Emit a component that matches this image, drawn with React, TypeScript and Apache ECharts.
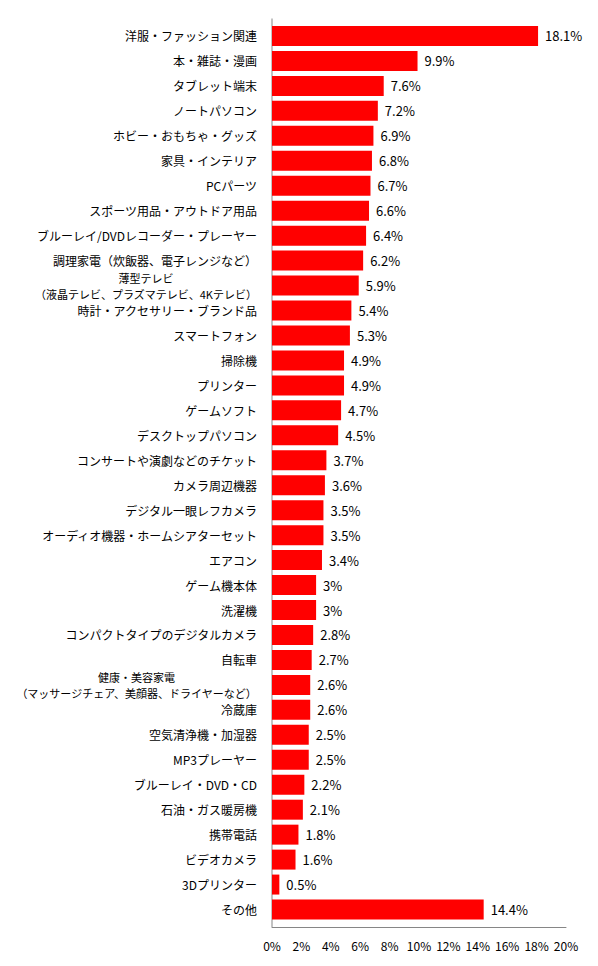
import { useEffect, useRef } from 'react';
import * as echarts from 'echarts';

const categories = [
  '洋服・ファッション関連',
  '本・雑誌・漫画',
  'タブレット端末',
  'ノートパソコン',
  'ホビー・おもちゃ・グッズ',
  '家具・インテリア',
  'PCパーツ',
  'スポーツ用品・アウトドア用品',
  'ブルーレイ/DVDレコーダー・プレーヤー',
  '調理家電（炊飯器、電子レンジなど）',
  '薄型テレビ\n（液晶テレビ、プラズマテレビ、4Kテレビ）',
  '時計・アクセサリー・ブランド品',
  'スマートフォン',
  '掃除機',
  'プリンター',
  'ゲームソフト',
  'デスクトップパソコン',
  'コンサートや演劇などのチケット',
  'カメラ周辺機器',
  'デジタル一眼レフカメラ',
  'オーディオ機器・ホームシアターセット',
  'エアコン',
  'ゲーム機本体',
  '洗濯機',
  'コンパクトタイプのデジタルカメラ',
  '自転車',
  '健康・美容家電\n（マッサージチェア、美顔器、ドライヤーなど）',
  '冷蔵庫',
  '空気清浄機・加湿器',
  'MP3プレーヤー',
  'ブルーレイ・DVD・CD',
  '石油・ガス暖房機',
  '携帯電話',
  'ビデオカメラ',
  '3Dプリンター',
  'その他',
];

const shares = [
  18.1, 9.9, 7.6, 7.2, 6.9, 6.8, 6.7, 6.6, 6.4, 6.2, 5.9, 5.4, 5.3, 4.9, 4.9, 4.7, 4.5, 3.7,
  3.6, 3.5, 3.5, 3.4, 3, 3, 2.8, 2.7, 2.6, 2.6, 2.5, 2.5, 2.2, 2.1, 1.8, 1.6, 0.5, 14.4,
];

const FONT = '"Noto Sans CJK JP", "Noto Sans", sans-serif';
const AXIS_COLOR = '#868686';

// plot area; the axis frame sticks out a little past the bars, like Excel's
const W = 598;
const H = 966;
const GRID_LEFT = 272;
const GRID_RIGHT = 32;
const GRID_TOP = 23.5;
const GRID_BOTTOM = 44;
const PAD = 5;

export default function App() {
  const chartRef = useRef<HTMLDivElement>(null);

  useEffect(() => {
    if (!chartRef.current) return;
    const chart = echarts.init(chartRef.current, undefined, { renderer: 'svg' });

    chart.setOption({
      animation: false,
      backgroundColor: '#fff',
      grid: {
        left: GRID_LEFT,
        right: GRID_RIGHT,
        top: GRID_TOP,
        bottom: GRID_BOTTOM,
        containLabel: false,
        outerBoundsMode: 'none',
      },
      xAxis: {
        type: 'value',
        min: 0,
        max: 20,
        interval: 2,
        offset: PAD,
        axisLine: { show: true, lineStyle: { color: AXIS_COLOR, width: 1 } },
        axisTick: { show: false },
        splitLine: { show: false },
        axisLabel: {
          formatter: '{value}%',
          color: '#000',
          fontSize: 12,
          fontFamily: FONT,
          margin: 12,
        },
      },
      yAxis: {
        type: 'category',
        inverse: true,
        data: categories,
        axisLine: { show: false },
        axisTick: { show: false },
        axisLabel: {
          color: '#000',
          fontSize: 12,
          fontFamily: FONT,
          margin: 15,
          align: 'right',
          // two-line labels: smaller, each line centred over the other
          formatter: (v: string) =>
            v.includes('\n')
              ? v
                  .split('\n')
                  .map((l) => `{s|${l}}`)
                  .join('\n')
              : v,
          rich: {
            s: {
              fontSize: 11,
              lineHeight: 16,
              fontFamily: FONT,
              color: '#000',
              align: 'center',
            },
          },
        },
      },
      graphic: [
        {
          type: 'line',
          silent: true,
          shape: {
            x1: GRID_LEFT,
            y1: GRID_TOP - PAD,
            x2: GRID_LEFT,
            y2: H - GRID_BOTTOM + PAD,
          },
          style: { stroke: AXIS_COLOR, lineWidth: 1 },
        },
      ],
      series: [
        {
          type: 'bar',
          data: shares,
          barCategoryGap: '20%',
          itemStyle: { color: '#ff0000' },
          label: {
            show: true,
            position: 'right',
            distance: 7,
            formatter: (p: any) => `${p.value}%`,
            color: '#000',
            fontSize: 13,
            fontFamily: FONT,
          },
        },
      ],
    });

    return () => {
      chart.dispose();
    };
  }, []);

  return (
    <div
      ref={chartRef}
      style={{ position: 'absolute', left: 0, top: 0, width: W, height: H }}
    />
  );
}
